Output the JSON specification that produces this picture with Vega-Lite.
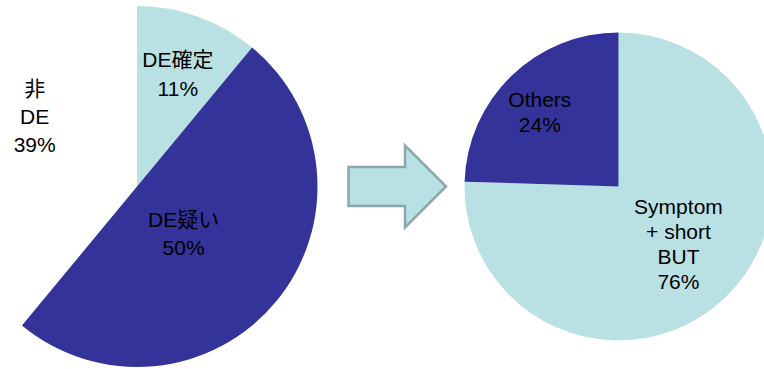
{
  "$schema": "https://vega.github.io/schema/vega-lite/v6.json",
  "padding": {"left": 0, "top": 4, "right": 0, "bottom": 0},
  "spacing": 0,
  "bounds": "flush",
  "config": {
    "view": {"stroke": null},
    "concat": {"spacing": 0},
    "text": {"font": "Liberation Sans, Arial, Noto Sans CJK JP", "fontSize": 21, "lineHeight": 25, "lineBreak": "\n", "fill": "#000000", "align": "center", "baseline": "middle"}
  },
  "datasets": {
    "before": [
      {"name": "DE確定", "value": 11, "idx": 1, "label": "DE確定\n11%"},
      {"name": "DE疑い", "value": 50, "idx": 2, "label": "DE疑い\n50%"},
      {"name": "非DE", "value": 39, "idx": 3, "label": "非\nDE\n39%"}
    ],
    "after": [
      {"name": "Symptom + short BUT", "value": 75.5, "idx": 1, "label": "Symptom\n+ short\nBUT\n76%"},
      {"name": "Others", "value": 24.5, "idx": 2, "label": "Others\n24%"}
    ],
    "arrow": [{"item": "arrow"}]
  },
  "hconcat": [
    {
      "width": 274,
      "height": 365,
      "data": {"name": "before"},
      "encoding": {
        "theta": {"field": "value", "type": "quantitative", "stack": true, "scale": {"domain": [0, 100]}},
        "order": {"field": "idx", "type": "quantitative"}
      },
      "layer": [
        {
          "transform": [{"filter": "datum.name !== '非DE'"}],
          "mark": {"type": "arc", "outerRadius": 180.5, "strokeWidth": 0},
          "encoding": {
            "color": {"field": "name", "type": "nominal", "legend": null,
              "scale": {"domain": ["DE確定", "DE疑い"], "range": ["#b9e0e3", "#333399"]}}
          }
        },
        {
          "mark": {"type": "text", "radius": 119, "dx": 0.5, "dy": -14, "lineHeight": 29.5},
          "encoding": {"text": {"condition": {"test": "datum.name === 'DE確定'", "field": "label"}, "value": ""}}
        },
        {
          "mark": {"type": "text", "radius": 67, "dx": -5, "dy": -8, "lineHeight": 28},
          "encoding": {"text": {"condition": {"test": "datum.name === 'DE疑い'", "field": "label"}, "value": ""}}
        },
        {
          "mark": {"type": "text", "radius": 123.6, "dx": 14, "dy": -55, "lineHeight": 28},
          "encoding": {"text": {"condition": {"test": "datum.name === '非DE'", "field": "label"}, "value": ""}}
        }
      ]
    },
    {
      "width": 246.5,
      "height": 365,
      "data": {"name": "arrow"},
      "mark": {
        "type": "point",
        "shape": "M-1,-0.4L0.159,-0.4L0.159,-0.84L1,0L0.159,0.84L0.159,0.4L-1,0.4Z",
        "size": 9506,
        "filled": true,
        "fill": "#b9e0e3",
        "fillOpacity": 1,
        "stroke": "#8aa8aa",
        "strokeWidth": 2.5,
        "opacity": 1
      },
      "encoding": {}
    },
    {
      "width": 195,
      "height": 365,
      "data": {"name": "after"},
      "encoding": {
        "theta": {"field": "value", "type": "quantitative", "stack": true, "scale": {"domain": [0, 100]}},
        "order": {"field": "idx", "type": "quantitative"}
      },
      "layer": [
        {
          "mark": {"type": "arc", "outerRadius": 154, "strokeWidth": 0},
          "encoding": {
            "color": {"field": "name", "type": "nominal", "legend": null,
              "scale": {"domain": ["Symptom + short BUT", "Others"], "range": ["#b9e0e3", "#333399"]}}
          }
        },
        {
          "mark": {"type": "text", "radius": 84, "dx": 1.5, "dy": -38.5},
          "encoding": {"text": {"condition": {"test": "datum.name === 'Symptom + short BUT'", "field": "label"}, "value": ""}}
        },
        {
          "mark": {"type": "text", "radius": 108, "dx": -3.5, "dy": -8},
          "encoding": {"text": {"condition": {"test": "datum.name === 'Others'", "field": "label"}, "value": ""}}
        }
      ]
    }
  ]
}
